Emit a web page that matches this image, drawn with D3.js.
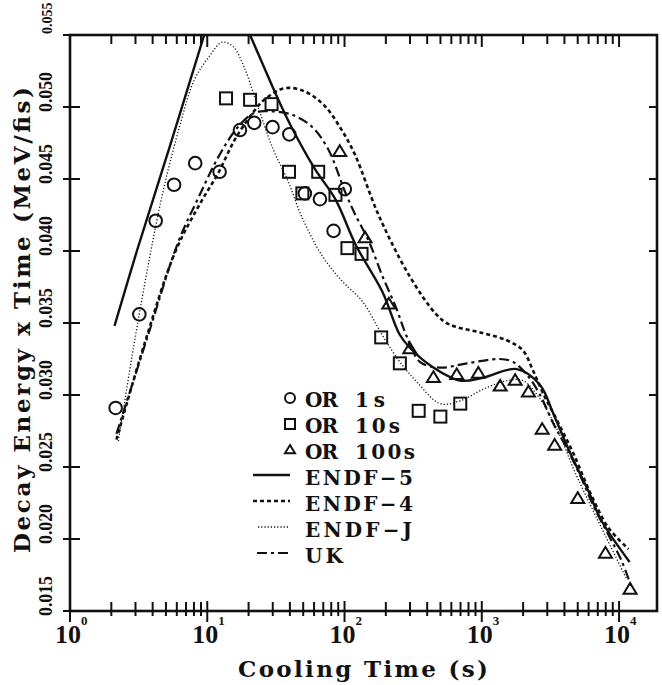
<!DOCTYPE html>
<html><head><meta charset="utf-8">
<script src="https://cdn.jsdelivr.net/npm/d3@7/dist/d3.min.js"></script>
<style>body{margin:0;background:#fff}</style>
</head><body>
<svg id="c" width="662" height="685"></svg>
<script>
// ---------- data ----------
const xTickExponents = [0, 1, 2, 3, 4];
const yTickValues = [0.015, 0.020, 0.025, 0.030, 0.035, 0.040, 0.045, 0.050, 0.055];
const yTickLabels = ["0.015", "0.020", "0.025", "0.030", "0.035", "0.040", "0.045", "0.050", "0.055"];
const xTitle = "Cooling Time (s)";
const yTitle = "Decay Energy x Time (MeV/fis)";

const or1sTime  = [2.15, 3.2, 4.21, 5.73, 8.17, 12.3, 17.3, 22.0, 29.9, 39.6, 51.4, 66.2, 83.2, 100.5];
const or1sValue = [0.0291, 0.0356, 0.0421, 0.0446, 0.0461, 0.0455, 0.0484, 0.0489, 0.0486, 0.0481, 0.0440, 0.0436, 0.0414, 0.0443];

const or10sTime  = [13.7, 20.5, 29.4, 39.4, 49.3, 64.3, 85.9, 105, 133, 185, 253, 347, 499, 697];
const or10sValue = [0.0506, 0.0505, 0.0502, 0.0455, 0.0440, 0.0455, 0.0439, 0.0402, 0.0398, 0.0340, 0.0322, 0.0289, 0.0285, 0.0294];

const or100sTime  = [92.3, 141, 210, 299, 444, 657, 944, 1361, 1750, 2187, 2754, 3395, 5000, 7960, 12030];
const or100sValue = [0.0469, 0.0409, 0.0363, 0.0332, 0.0312, 0.0314, 0.0315, 0.0306, 0.0310, 0.0302, 0.0276, 0.0265, 0.0228, 0.0190, 0.0165];

const endf5Time  = [2.11, 3.07, 5.35, 9.5, 13.2, 20.5, 32.6, 40.6, 60.8, 85.7, 121, 188, 252, 298, 430, 695, 1021, 1803, 2657, 3321, 4440, 5935, 7420, 11940];
const endf5Value = [0.0348, 0.0400, 0.0473, 0.0550, 0.0592, 0.0550, 0.0506, 0.0487, 0.0457, 0.0436, 0.0404, 0.0372, 0.0342, 0.0333, 0.0320, 0.0310, 0.0312, 0.0318, 0.0307, 0.0287, 0.0259, 0.0234, 0.0213, 0.0184];

const endf4Time  = [2.18, 3.5, 5.88, 9.12, 12.0, 15.8, 20.7, 26.0, 36.4, 50.8, 71.3, 94, 119, 177, 296, 466, 581, 1014, 1520, 1991, 2360, 2800, 3548, 4670, 6240, 8340, 11720];
const endf4Value = [0.0269, 0.0336, 0.0400, 0.0435, 0.0454, 0.0477, 0.0494, 0.0505, 0.0513, 0.0511, 0.0501, 0.0485, 0.0467, 0.0425, 0.0383, 0.0356, 0.0349, 0.0343, 0.0338, 0.0331, 0.0317, 0.0301, 0.0282, 0.0259, 0.0231, 0.0208, 0.0193];

const endfJTime  = [2.25, 2.95, 3.76, 4.78, 6.31, 8.06, 10.5, 12.8, 15.4, 18.5, 22.5, 30.1, 39.0, 48.7, 68.4, 96.2, 135, 190, 253, 337, 498, 697, 1023, 1528, 1999, 2531, 3005, 3750, 4690, 5945, 7430, 11380];
const endfJValue = [0.0268, 0.0337, 0.0393, 0.0442, 0.0487, 0.0519, 0.0536, 0.0545, 0.0542, 0.0528, 0.0505, 0.0471, 0.0448, 0.0424, 0.0397, 0.0379, 0.0365, 0.0341, 0.0323, 0.0309, 0.0294, 0.0296, 0.0304, 0.0310, 0.0310, 0.0300, 0.0289, 0.0271, 0.0248, 0.0227, 0.0208, 0.0172];

const ukTime  = [2.18, 3.66, 6.19, 8.62, 12.0, 16.7, 22.1, 29.0, 40.5, 56.8, 75.7, 101, 120, 150, 188, 239, 283, 354, 495, 780, 1353, 1687, 2137, 2661, 3327, 4220, 5270, 6577, 8358, 10420, 12380];
const ukValue = [0.0273, 0.0340, 0.0407, 0.0437, 0.0465, 0.0486, 0.0496, 0.0497, 0.0495, 0.0487, 0.0471, 0.0441, 0.0425, 0.0407, 0.0383, 0.0360, 0.0341, 0.0323, 0.0319, 0.0322, 0.0325, 0.0323, 0.0314, 0.0300, 0.0280, 0.0262, 0.0243, 0.0222, 0.0203, 0.0185, 0.0166];

const markerNames = ["OR", "OR", "OR"];
const markerSuffix = ["1s", "10s", "100s"];
const lineNames = ["ENDF\u22125", "ENDF\u22124", "ENDF\u2212J", "UK"];

// ---------- layout ----------
const L = 70, R = 657, T = 35, B = 611;
const x = d3.scaleLog().domain([1, 18900]).range([L, R]);
const y = d3.scaleLinear().domain([0.015, 0.055]).range([B, T]);
const svg = d3.select("#c");
const ink = "#111";
const serif = "'DejaVu Serif', serif";
const tserif = "'Liberation Serif', 'Times New Roman', serif";

svg.append("defs").append("clipPath").attr("id", "clip")
  .append("rect").attr("x", L).attr("y", T).attr("width", R - L).attr("height", B - T);

// ---------- lines ----------
const lineGen = d3.line().x(d => x(d[0])).y(d => y(d[1])).curve(d3.curveCatmullRom.alpha(0.5));
const lineStyles = [
  {t: endf5Time, v: endf5Value, w: 2.4, dash: null},
  {t: endf4Time, v: endf4Value, w: 2.6, dash: "4,3"},
  {t: endfJTime, v: endfJValue, w: 1.3, dash: "1.2,2"},
  {t: ukTime, v: ukValue, w: 2.2, dash: "10,4,3,4"}
];
const plot = svg.append("g").attr("clip-path", "url(#clip)");
lineStyles.forEach(s => {
  plot.append("path").attr("d", lineGen(d3.zip(s.t, s.v)))
    .attr("fill", "none").attr("stroke", ink).attr("stroke-width", s.w)
    .attr("stroke-dasharray", s.dash);
});

// ---------- markers ----------
function circleM(g, cx, cy, r) { g.append("circle").attr("cx", cx).attr("cy", cy).attr("r", r).attr("fill", "none").attr("stroke", ink).attr("stroke-width", 2); }
function squareM(g, cx, cy, s) { g.append("rect").attr("x", cx - s/2).attr("y", cy - s/2).attr("width", s).attr("height", s).attr("fill", "none").attr("stroke", ink).attr("stroke-width", 2); }
function triM(g, cx, cy, w) { const h = w*0.82; g.append("path").attr("d", `M${cx},${cy - h*0.6}L${cx + w/2},${cy + h*0.4}L${cx - w/2},${cy + h*0.4}Z`).attr("fill", "none").attr("stroke", ink).attr("stroke-width", 2).attr("stroke-linejoin", "miter"); }

or1sTime.forEach((t, i) => circleM(svg, x(t), y(or1sValue[i]), 6.3));
or10sTime.forEach((t, i) => squareM(svg, x(t), y(or10sValue[i]), 12));
or100sTime.forEach((t, i) => triM(svg, x(t), y(or100sValue[i]), 13));

// ---------- frame & ticks ----------
svg.append("rect").attr("x", L).attr("y", T).attr("width", R - L).attr("height", B - T)
  .attr("fill", "none").attr("stroke", ink).attr("stroke-width", 2.6);

const minorTicks = [];
xTickExponents.forEach(e => { for (let m = 2; m <= 9; m++) { const v = m * Math.pow(10, e); if (v < x.domain()[1]) minorTicks.push(v); } });
const majorTicks = xTickExponents.map(e => Math.pow(10, e));
const tk = svg.append("g").attr("stroke", ink).attr("stroke-width", 2);
majorTicks.forEach(v => {
  tk.append("line").attr("x1", x(v)).attr("x2", x(v)).attr("y1", B - 10).attr("y2", B + 11);
  tk.append("line").attr("x1", x(v)).attr("x2", x(v)).attr("y1", T).attr("y2", T + 12);
});
minorTicks.forEach(v => {
  tk.append("line").attr("x1", x(v)).attr("x2", x(v)).attr("y1", B - 9).attr("y2", B + 5);
  tk.append("line").attr("x1", x(v)).attr("x2", x(v)).attr("y1", T).attr("y2", T + 9);
});
yTickValues.forEach(v => {
  tk.append("line").attr("x1", L - 7).attr("x2", L + 10).attr("y1", y(v)).attr("y2", y(v));
  tk.append("line").attr("x1", R - 8).attr("x2", R).attr("y1", y(v)).attr("y2", y(v));
});

// ---------- tick labels ----------
xTickExponents.forEach(e => {
  const px = x(Math.pow(10, e));
  svg.append("text").attr("x", px - 2).attr("y", 643).attr("text-anchor", "middle")
    .attr("font-family", tserif).attr("font-weight", "bold").attr("font-size", 26).attr("fill", ink).text("10");
  svg.append("text").attr("x", px + 11).attr("y", 625).attr("text-anchor", "start")
    .attr("font-family", tserif).attr("font-weight", "bold").attr("font-size", 13).attr("fill", ink).text(String(e));
});
yTickValues.forEach((v, i) => {
  const isTop = i === yTickValues.length - 1;
  const py = y(v) + (isTop ? -1 : 5);
  const t = svg.append("text").attr("transform", `translate(52,${py}) rotate(-90)`).attr("text-anchor", "start")
    .attr("font-family", tserif).attr("font-weight", "bold").attr("font-size", isTop ? 14 : 19)
    .attr("fill", ink).text(yTickLabels[i]);
  if (!isTop) t.attr("textLength", 40).attr("lengthAdjust", "spacingAndGlyphs");
});

// ---------- titles ----------
svg.append("text").attr("x", 363).attr("y", 677).attr("text-anchor", "middle")
  .attr("font-family", serif).attr("font-weight", "bold").attr("font-size", 23)
  .attr("textLength", 250).attr("lengthAdjust", "spacing").attr("fill", ink).text(xTitle);
svg.append("text").attr("transform", "translate(30,320) rotate(-90)").attr("text-anchor", "middle")
  .attr("font-family", serif).attr("font-weight", "bold").attr("font-size", 23)
  .attr("textLength", 466).attr("lengthAdjust", "spacing").attr("fill", ink).text(yTitle);

// ---------- legend ----------
const lg = svg.append("g");
const base0 = 406.5, step = 26;
const mk = [circleM, squareM, triM];
const mkSize = [5, 10, 10];
const suffixLen = [30, 45, 60];
markerNames.forEach((n, i) => {
  const by = base0 + i * step;
  mk[i](lg, 290, by - 8.5, mkSize[i]);
  lg.append("text").attr("x", 305).attr("y", by).attr("font-family", serif).attr("font-weight", "bold")
    .attr("font-size", 20).attr("textLength", 33).attr("lengthAdjust", "spacing").attr("fill", ink).text(n);
  lg.append("text").attr("x", 355).attr("y", by).attr("font-family", serif).attr("font-weight", "bold")
    .attr("font-size", 20).attr("textLength", suffixLen[i]).attr("lengthAdjust", "spacing").attr("fill", ink).text(markerSuffix[i]);
});
const lineLen = [108, 108, 107, 38];
const sampleX0 = [253, 253, 258, 257];
lineNames.forEach((n, i) => {
  const by = base0 + (i + 3) * step;
  const s = lineStyles[i];
  lg.append("line").attr("x1", sampleX0[i]).attr("x2", 290).attr("y1", by - 9.5).attr("y2", by - 9.5)
    .attr("stroke", ink).attr("stroke-width", s.w).attr("stroke-dasharray", s.dash);
  lg.append("text").attr("x", 305).attr("y", by).attr("font-family", serif).attr("font-weight", "bold")
    .attr("font-size", 20).attr("textLength", lineLen[i]).attr("lengthAdjust", "spacing").attr("fill", ink).text(n);
});
</script>
</body></html>
